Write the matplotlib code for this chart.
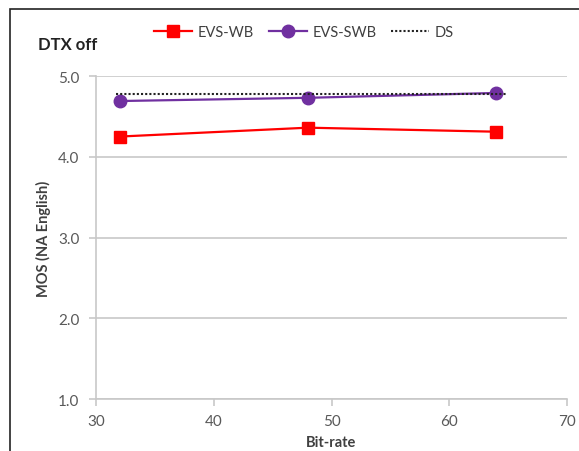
import matplotlib.pyplot as plt
from matplotlib.patches import Rectangle

plt.rcParams['font.family'] = ['Lato', 'DejaVu Sans']

# bit-rate vs MOS, DTX off
bitrate = [32, 48, 64]
evs_wb = [4.25, 4.36, 4.31]
evs_swb = [4.69, 4.73, 4.79]
ds_x = [31.7, 64.8]
ds_y = [4.78, 4.78]

fig = plt.figure(figsize=(5.79, 4.52), dpi=100)
fig.patch.set_facecolor('white')

# chart border, cut off at the right and bottom like the original
fig.patches.append(Rectangle((10 / 579, -0.1), 1.2, 1 - 10 / 452 + 0.1,
                             transform=fig.transFigure, fill=False,
                             edgecolor='#222222', linewidth=1.2))

ax = fig.add_axes([96 / 579, 1 - 400 / 452, (567 - 96) / 579, (400 - 77) / 452])

ax.plot(bitrate, evs_wb, color='#FF0000', lw=1.6, marker='s', ms=9, label='EVS-WB', zorder=3)
ax.plot(bitrate, evs_swb, color='#7030A0', lw=1.6, marker='o', ms=9, label='EVS-SWB', zorder=3)
ax.plot(ds_x, ds_y, color='#222222', lw=1.5, ls=(0, (1, 1)), label='DS', zorder=4)

ax.set_xlim(30, 70)
ax.set_ylim(1, 5)
ax.set_xticks([30, 40, 50, 60, 70])
ax.set_yticks([1, 2, 3, 4, 5])
ax.set_yticklabels(['1.0', '2.0', '3.0', '4.0', '5.0'])
ax.yaxis.grid(True, color='#C8C8C8', lw=1.2)
ax.set_axisbelow(True)
for s in ['top', 'right']:
    ax.spines[s].set_visible(False)
for s in ['left', 'bottom']:
    ax.spines[s].set_color('#C8C8C8')
    ax.spines[s].set_linewidth(1.2)
ax.tick_params(colors='#C8C8C8', labelcolor='#595959', labelsize=11, length=5, width=1.2)
ax.tick_params(axis='x', pad=6)
ax.tick_params(axis='y', pad=7)

ax.set_xlabel('Bit-rate', fontsize=10.5, fontweight='bold', color='#404040', labelpad=5)
ax.set_ylabel('MOS (NA English)', fontsize=10.5, fontweight='bold', color='#404040', labelpad=5)

fig.text(38 / 579, 1 - 45 / 452, 'DTX off', fontsize=12, fontweight='bold', color='#222222',
         ha='left', va='center')

fig.legend(loc='center', bbox_to_anchor=(0.525, 1 - 33 / 452), ncol=3, frameon=False,
           fontsize=10.5, handlelength=2.6, columnspacing=1.0, handletextpad=0.4,
           labelcolor='#404040')

fig.savefig('out.png', dpi=100)
